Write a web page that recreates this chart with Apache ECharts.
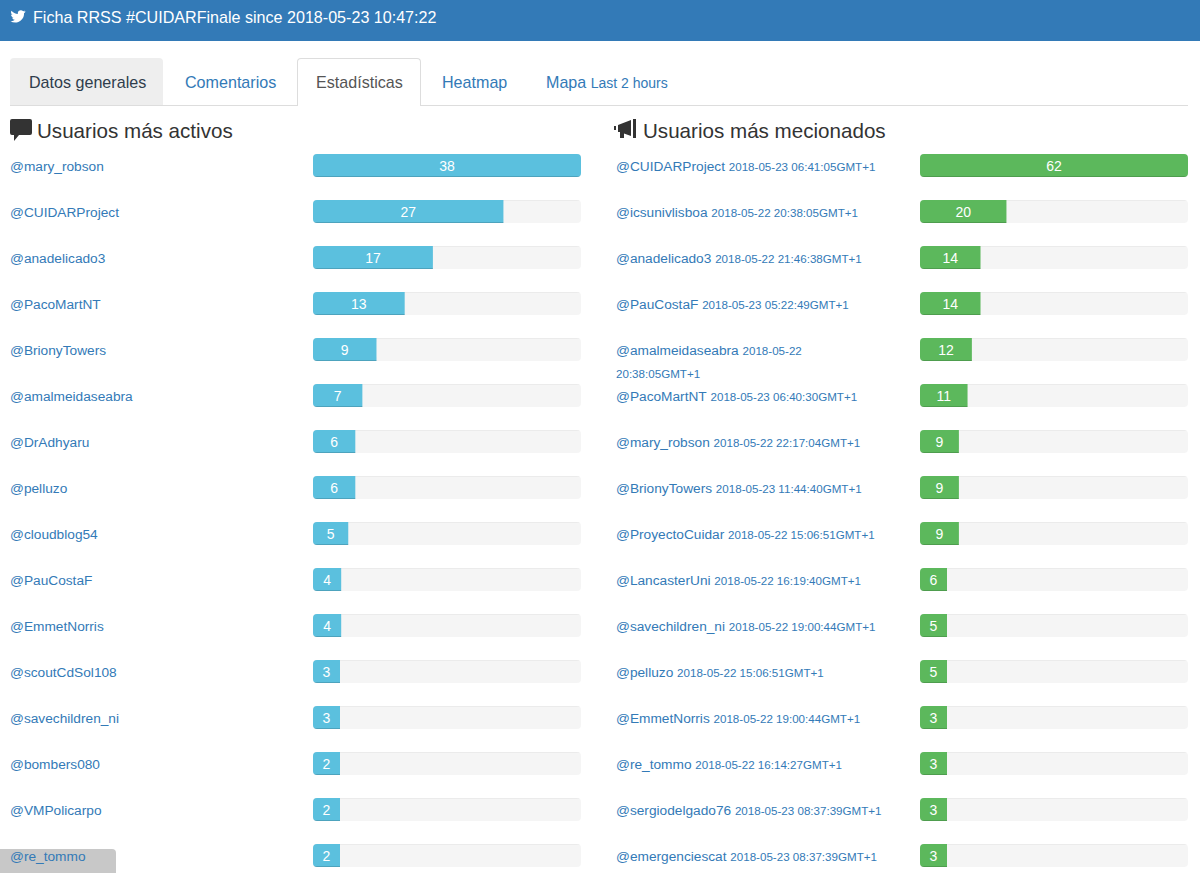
<!DOCTYPE html>
<html lang="es">
<head>
<meta charset="UTF-8">
<title>Ficha RRSS #CUIDARFinale</title>
<style>
	html, body { margin: 0; padding: 0; height: 873px; overflow: hidden; background: #fff; color: #333; font-family: "Liberation Sans", Arial, sans-serif; }
	.header { position: absolute; left: 0; top: 0; width: 1200px; height: 41px; background: #337ab7; color: #fff; font-size: 16.1px; line-height: 34px; }
	.header svg { position: absolute; left: 10px; top: 9px; }
	.header span { position: absolute; left: 33px; top: 0; white-space: nowrap; }
	.tabs { position: absolute; left: 10px; top: 58px; width: 1178px; height: 47px; border-bottom: 1px solid #ddd; }
	.tab { position: absolute; top: 0; height: 47px; line-height: 48px; font-size: 16.1px; color: #337ab7; white-space: nowrap; box-sizing: border-box; }
	.tab small { font-size: 14px; }
	.tab.grey { left: 0; width: 153px; background: #eee; color: #2f3d4c; padding-left: 19px; border-radius: 4px 4px 0 0; }
	.tab.on { left: 287px; width: 124px; height: 48px; background: #fff; color: #555; padding-left: 18px; line-height: 46px; border: 1px solid #ddd; border-bottom: 0; border-radius: 4px 4px 0 0; }
	.heading { position: absolute; top: 119px; font-size: 20.6px; line-height: 24px; color: #333; white-space: nowrap; }
	.heading svg { position: absolute; top: 0; }
	.corner { position: absolute; left: 0; top: 849px; width: 116px; height: 24px; background: #c8c8c8; border-radius: 0 4px 0 0; }
	#stats { position: absolute; left: 0; top: 0; width: 1200px; height: 890px; }
</style>
</head>
<body>
	<div class="corner"></div>
	<div id="stats"></div>
	<div class="header">
		<svg width="16" height="16" viewBox="0 0 1664 1664"><path fill="#fff" transform="translate(0,-130)" d="M1620 408q-67 98-162 167 1 14 1 42 0 130-38 259.5t-115.5 248.5-184.5 210.5-258 146-323 54.5q-271 0-496-145 35 4 76 4 225 0 401-138-105-2-188-64.5t-114-159.5q33 5 61 5 43 0 85-11-112-23-185.5-111.5t-73.5-205.5v-4q68 38 146 41-66-44-105-115t-39-154q0-88 44-163 121 149 294.5 238.5t371.5 99.5q-8-38-8-74 0-134 94.5-228.5t228.5-94.5q140 0 236 102 109-21 201-77-35 110-132 168 96-10 192-52z"/></svg>
		<span>Ficha RRSS #CUIDARFinale since 2018-05-23 10:47:22</span>
	</div>
	<div class="tabs">
		<div class="tab grey">Datos generales</div>
		<div class="tab" style="left:175px">Comentarios</div>
		<div class="tab on">Estadísticas</div>
		<div class="tab" style="left:432px">Heatmap</div>
		<div class="tab" style="left:536px">Mapa <small>Last 2 hours</small></div>
	</div>
	<div class="heading" style="left:37px">
		<svg style="left:-27px" width="22" height="22" viewBox="0 0 22 22"><path fill="#333" d="M2 0h18a2 2 0 0 1 2 2v12a2 2 0 0 1-2 2H9l-5 6v-6H2a2 2 0 0 1-2-2V2a2 2 0 0 1 2-2z"/></svg>
		Usuarios más activos
	</div>
	<div class="heading" style="left:643px">
		<svg style="left:-29px" width="24" height="22" viewBox="0 0 24 22"><path fill="#333" d="M0 7h2v4H0zM4 6l13-5v16L10 14.500V19H6v-6H4zM19 0h3v19h-3z"/></svg>
		Usuarios más mecionados
	</div>

	<script type="text/javascript" src="https://cdn.jsdelivr.net/npm/echarts@6/dist/echarts.min.js"></script>
	<script>
		var activeUsers = ['@mary_robson', '@CUIDARProject', '@anadelicado3', '@PacoMartNT', '@BrionyTowers', '@amalmeidaseabra', '@DrAdhyaru', '@pelluzo',
			'@cloudblog54', '@PauCostaF', '@EmmetNorris', '@scoutCdSol108', '@savechildren_ni', '@bombers080', '@VMPolicarpo', '@re_tommo']
		var activeCounts = [38, 27, 17, 13, 9, 7, 6, 6, 5, 4, 4, 3, 3, 2, 2, 2]

		var mentionedUsers = ['@CUIDARProject', '@icsunivlisboa', '@anadelicado3', '@PauCostaF', '@amalmeidaseabra', '@PacoMartNT', '@mary_robson', '@BrionyTowers',
			'@ProyectoCuidar', '@LancasterUni', '@savechildren_ni', '@pelluzo', '@EmmetNorris', '@re_tommo', '@sergiodelgado76', '@emergenciescat']
		var mentionedDates = ['2018-05-23 06:41:05GMT+1', '2018-05-22 20:38:05GMT+1', '2018-05-22 21:46:38GMT+1', '2018-05-23 05:22:49GMT+1',
			'2018-05-22 20:38:05GMT+1', '2018-05-23 06:40:30GMT+1', '2018-05-22 22:17:04GMT+1', '2018-05-23 11:44:40GMT+1',
			'2018-05-22 15:06:51GMT+1', '2018-05-22 16:19:40GMT+1', '2018-05-22 19:00:44GMT+1', '2018-05-22 15:06:51GMT+1',
			'2018-05-22 19:00:44GMT+1', '2018-05-22 16:14:27GMT+1', '2018-05-23 08:37:39GMT+1', '2018-05-23 08:37:39GMT+1']
		var mentionedCounts = [62, 20, 14, 14, 12, 11, 9, 9, 9, 6, 5, 5, 3, 3, 3, 3]

		// row that wraps on the page because the name is long
		var wrappedUser = '@amalmeidaseabra'

		// bootstrap style bar: flat colour with a thin darker line on one edge
		function edgeGradient(stops) {
			return new echarts.graphic.LinearGradient(0, 0, 0, 1, stops)
		}

		function mentionLabel(value, index) {
			var date = mentionedDates[index]
			if (value === wrappedUser) {
				// empty first line keeps the name on the middle of the row
				var parts = date.split(' ')
				return '{date| }\n{user|' + value + '} {date|' + parts[0] + '}\n{date|' + parts[1] + '}'
			}
			return '{user|' + value + '} {date|' + date + '}'
		}

		function barData(counts) {
			var top = Math.max.apply(null, counts)
			return counts.map(function (v) {
				return {value: v, itemStyle: {borderRadius: v === top ? 4 : [4, 0, 0, 4]}}
			})
		}

		function yAxisFor(index, names, formatter) {
			return {
				type: 'category',
				gridIndex: index,
				inverse: true,
				data: names,
				axisLine: {show: false},
				axisTick: {show: false},
				axisLabel: {
					interval: 0,
					align: 'left',
					margin: index === 0 ? 303 : 304,
					padding: [1, 0, 0, 0],
					color: '#337ab7',
					fontSize: 13.7,
					fontFamily: 'Liberation Sans',
					formatter: formatter,
					rich: {
						user: {color: '#337ab7', fontSize: 13.7, lineHeight: 23, fontFamily: 'Liberation Sans'},
						date: {color: '#337ab7', fontSize: 11.6, lineHeight: 23, fontFamily: 'Liberation Sans'}
					}
				}
			}
		}

		function seriesFor(index, counts, main, edge) {
			return {
				type: 'bar',
				xAxisIndex: index,
				yAxisIndex: index,
				data: barData(counts),
				barWidth: 23,
				barMinHeight: 27,
				silent: true,
				itemStyle: {color: edgeGradient([
					{offset: 0, color: main}, {offset: 0.955, color: main},
					{offset: 0.955, color: edge}, {offset: 1, color: edge}
				])},
				showBackground: true,
				backgroundStyle: {color: edgeGradient([
					{offset: 0, color: '#ebebeb'}, {offset: 0.06, color: '#ebebeb'},
					{offset: 0.06, color: '#f5f5f5'}, {offset: 1, color: '#f5f5f5'}
				]), borderRadius: 4},
				label: {show: true, position: 'inside', color: '#fff', fontSize: 14, fontFamily: 'Liberation Sans'}
			}
		}

		var myChart = echarts.init(document.getElementById('stats'), null, {renderer: 'svg'})
		var option = {
			animation: false,
			tooltip: {show: false},
			grid: [
				{left: 313, top: 142.5, width: 268, height: 736},
				{left: 920, top: 142.5, width: 268, height: 736}
			],
			xAxis: [
				{type: 'value', gridIndex: 0, min: 0, max: Math.max.apply(null, activeCounts), show: false},
				{type: 'value', gridIndex: 1, min: 0, max: Math.max.apply(null, mentionedCounts), show: false}
			],
			yAxis: [
				yAxisFor(0, activeUsers),
				yAxisFor(1, mentionedUsers, mentionLabel)
			],
			series: [
				seriesFor(0, activeCounts, '#5bc0de', '#4da3bd'),
				seriesFor(1, mentionedCounts, '#5cb85c', '#4e9d4e')
			]
		}
		myChart.setOption(option)
	</script>
</body>
</html>
